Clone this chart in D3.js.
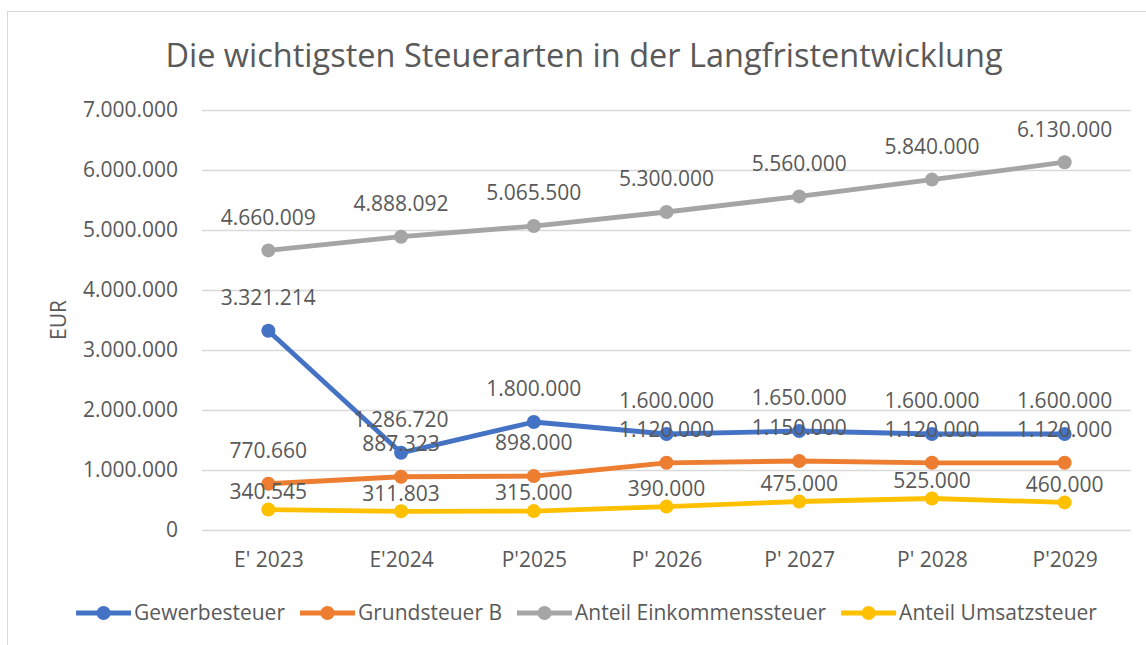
<!DOCTYPE html>
<html>
<head>
<meta charset="utf-8">
<script src="https://cdn.jsdelivr.net/npm/d3@7"></script>
<style>
  body { margin: 0; background: #fff; }
  svg text { font-family: "Open Sans", sans-serif; fill: #595959; }
</style>
</head>
<body>
<div id="chart"></div>
<script>
// chart data
const categories = ["E' 2023", "E'2024", "P'2025", "P' 2026", "P' 2027", "P' 2028", "P'2029"];
const gewerbesteuer = [3321214, 1286720, 1800000, 1600000, 1650000, 1600000, 1600000];
const grundsteuerB = [770660, 887323, 898000, 1120000, 1150000, 1120000, 1120000];
const einkommenssteuer = [4660009, 4888092, 5065500, 5300000, 5560000, 5840000, 6130000];
const umsatzsteuer = [340545, 311803, 315000, 390000, 475000, 525000, 460000];
const yTicks = [0, 1000000, 2000000, 3000000, 4000000, 5000000, 6000000, 7000000];

const series = [
    { name: "Gewerbesteuer", values: gewerbesteuer, color: "#4472C4", labelOffset: 33 },
    { name: "Grundsteuer B", values: grundsteuerB, color: "#ED7D31", labelOffset: 33 },
    { name: "Anteil Einkommenssteuer", values: einkommenssteuer, color: "#A5A5A5", labelOffset: 33 },
    { name: "Anteil Umsatzsteuer", values: umsatzsteuer, color: "#FFC000", labelOffset: 18 }
];

const width = 1146, height = 645;
const plot = { left: 202, right: 1131, top: 110, bottom: 530 };

// German number format: dots as thousands separator
const de = d3.formatLocale({ decimal: ",", thousands: ".", grouping: [3], currency: ["", " €"] });
const fmt = de.format(",d");

const svg = d3.select("#chart").append("svg")
    .attr("width", width)
    .attr("height", height);

// chart frame (cropped on the right and bottom)
svg.append("rect")
    .attr("x", 7.5).attr("y", 11.5)
    .attr("width", 1200).attr("height", 700)
    .attr("fill", "#fff")
    .attr("stroke", "#d9d9d9");

const x = d3.scalePoint()
    .domain(categories)
    .range([plot.left, plot.right])
    .padding(0.5);

const y = d3.scaleLinear()
    .domain([0, 7000000])
    .range([plot.bottom, plot.top]);

// title
svg.append("text")
    .attr("x", 584).attr("y", 67)
    .attr("text-anchor", "middle")
    .style("font-size", "32.5px")
    .text("Die wichtigsten Steuerarten in der Langfristentwicklung");

// gridlines + y labels
const yAxis = d3.axisLeft(y)
    .tickValues(yTicks)
    .tickSize(-(plot.right - plot.left))
    .tickPadding(24)
    .tickFormat(fmt);

svg.append("g")
    .attr("transform", `translate(${plot.left},0)`)
    .call(yAxis)
    .call(g => g.select(".domain").remove())
    .call(g => g.selectAll(".tick line").attr("stroke", "#d9d9d9").attr("stroke-width", 1.3))
    .call(g => g.selectAll(".tick text")
        .attr("fill", "#595959")
        .style("font-size", "21px")
        .style("font-family", "'Open Sans', sans-serif"));

// x labels
const xAxis = d3.axisBottom(x).tickSize(0).tickPadding(22);
svg.append("g")
    .attr("transform", `translate(0,${plot.bottom})`)
    .call(xAxis)
    .call(g => g.select(".domain").remove())
    .call(g => g.selectAll(".tick text")
        .attr("fill", "#595959")
        .style("font-size", "21px")
        .style("font-family", "'Open Sans', sans-serif"));

// y axis title
svg.append("text")
    .attr("transform", "translate(66,320) rotate(-90)")
    .attr("text-anchor", "middle")
    .style("font-size", "21px")
    .text("EUR");

const line = d3.line()
    .x((d, i) => x(categories[i]))
    .y(d => y(d));

const groups = svg.selectAll("g.series")
    .data(series)
    .join("g")
    .attr("class", "series");

groups.append("path")
    .attr("d", d => line(d.values))
    .attr("fill", "none")
    .attr("stroke", d => d.color)
    .attr("stroke-width", 4.8)
    .attr("stroke-linejoin", "round");

groups.selectAll("circle")
    .data(d => d.values.map((v, i) => ({ v, i, color: d.color })))
    .join("circle")
    .attr("cx", d => x(categories[d.i]))
    .attr("cy", d => y(d.v))
    .attr("r", 7)
    .attr("fill", d => d.color);

// data labels, drawn after all lines so they sit on top
const labels = svg.append("g");
series.forEach(s => {
    labels.selectAll(null)
        .data(s.values.map((v, i) => ({ v, i })))
        .join("text")
        .attr("x", d => x(categories[d.i]))
        .attr("y", d => y(d.v) - s.labelOffset)
        .attr("dy", "0.35em")
        .attr("text-anchor", "middle")
        .style("font-size", "21px")
        .text(d => fmt(d.v));
});

// legend, centered under the plot
const legend = svg.append("g");
const items = legend.selectAll("g")
    .data(series)
    .join("g");

items.append("line")
    .attr("x1", 0).attr("x2", 55)
    .attr("stroke", d => d.color)
    .attr("stroke-width", 4.8);
items.append("circle")
    .attr("cx", 27.5).attr("r", 7)
    .attr("fill", d => d.color);
items.append("text")
    .attr("x", 58)
    .attr("dy", "0.35em")
    .style("font-size", "21px")
    .text(d => d.name);

let offset = 0;
const gap = 15;
items.each(function() {
    const w = 58 + this.querySelector("text").getComputedTextLength();
    d3.select(this).attr("transform", `translate(${offset},0)`);
    offset += w + gap;
});
const total = offset - gap;
legend.attr("transform", `translate(${586.5 - total / 2},613)`);
</script>
</body>
</html>
